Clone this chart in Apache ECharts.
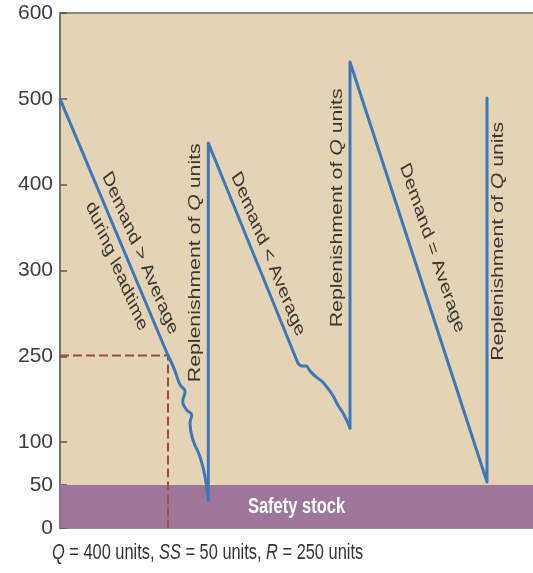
<!DOCTYPE html>
<html>
<head>
<meta charset="utf-8">
<script src="https://cdn.jsdelivr.net/npm/echarts@6/dist/echarts.min.js"></script>
<style>
  html, body { margin: 0; padding: 0; background: #ffffff; }
  #chart { width: 533px; height: 573px; }
</style>
</head>
<body>
<div id="chart"></div>
<script>
// ---- data (x = time units, y = inventory axis units) ----
const time = [0, 108, 114, 120, 125, 122.7, 126.7, 131.7, 130, 133, 140, 145, 148.3,
              148.3, 238, 242, 246, 250, 256, 262, 267, 273, 278, 284, 290,
              290, 427, 427];
const inventory = [500, 201, 186, 167, 159, 147, 137.5, 131.7, 122, 102.5, 83, 60, 32.6,
                   448.5, 192, 188.7, 188.7, 183, 176, 171, 164, 154, 143, 132, 116.5,
                   543, 53.6, 501];
// index ranges of the irregular (wavy) stretches of the inventory line
const wavyRanges = [[1, 12], [14, 24]];
const yTickValues = [0, 50, 100, 200, 300, 400, 500, 600];
const yTickLabels = ['0', '50', '100', '250', '300', '400', '500', '600'];
const safetyStock = [0, 50];
const reorderLevel = 201;     // axis position of the "250" (R) dashed line
const leadtimeStart = 108;
const reorderTime = [0, leadtimeStart, leadtimeStart];
const reorderValue = [reorderLevel, reorderLevel, 0];

// annotations: [text, time, value, angleDeg]
const notes = [
  ['Demand > Average', 80, 320, -60.5],
  ['during leadtime', 56.5, 305, -60.5],
  ['Replenishment of {i|Q} units', 136, 309, 90],
  ['Demand < Average', 208, 319, -61.5],
  ['Replenishment of {i|Q} units', 277.5, 373, 90],
  ['Demand = Average', 372, 326, -66],
  ['Replenishment of {i|Q} units', 438.5, 334, 90]
];
const caption = '{i|Q} = 400 units, {i|SS} = 50 units, {i|R} = 250 units';
const bandLabel = 'Safety stock';

// split the inventory line into straight pieces and wavy (smoothed) pieces
const pts = time.map((t, i) => [t, inventory[i]]);
const inWavy = (i) => wavyRanges.some(r => i > r[0] && i < r[1]);
const straightData = [];
for (let i = 0; i < pts.length - 1; i++) {
  const wavySeg = wavyRanges.some(r => i >= r[0] && i < r[1]);
  if (!wavySeg) {
    if (straightData.length && straightData[straightData.length - 1] !== null &&
        straightData[straightData.length - 1] !== pts[i]) straightData.push(null);
    if (straightData[straightData.length - 1] !== pts[i]) straightData.push(pts[i]);
    straightData.push(pts[i + 1]);
  }
}
const wavyData = [];
wavyRanges.forEach((r, k) => {
  if (k > 0) wavyData.push(null);
  for (let i = r[0]; i <= r[1]; i++) wavyData.push(pts[i]);
});

const chart = echarts.init(document.getElementById('chart'), null, {renderer: 'canvas'});
const STRETCH = 1.33;
const textColor = '#3a3632';
const lineColor = '#3c78b9';

const option = {
  animation: false,
  backgroundColor: '#ffffff',
  grid: {
    left: 60, top: 13, right: -2, bottom: 45,
    outerBoundsMode: 'none',
    show: true, backgroundColor: '#e4d4b5', borderColor: '#6e6c68', borderWidth: 1.5
  },
  xAxis: {
    type: 'value', min: 0, max: 475,
    axisLine: {show: false}, axisTick: {show: false}, axisLabel: {show: false}, splitLine: {show: false}
  },
  yAxis: {
    type: 'value', min: 0, max: 600,
    axisLine: {show: true, lineStyle: {color: '#6e6c68', width: 1.5}},
    axisTick: {show: true, inside: true, length: 7, customValues: yTickValues, lineStyle: {color: '#555', width: 1.5}},
    axisLabel: {
      customValues: yTickValues, margin: 7,
      formatter: function (v) { const i = yTickValues.indexOf(v); return i >= 0 ? yTickLabels[i] : ''; },
      color: '#3d3d3d', fontSize: 21, fontFamily: '"Liberation Sans Narrow", "Arial Narrow", "Liberation Sans", sans-serif'
    },
    splitLine: {show: false}
  },
  series: [
    {
      type: 'line', name: 'band', data: [], silent: true, z: 1,
      markArea: {
        silent: true,
        itemStyle: {color: '#9d7699', opacity: 1},
        data: [[{yAxis: safetyStock[0]}, {yAxis: safetyStock[1]}]]
      }
    },
    {
      type: 'line', name: 'reorder',
      data: reorderTime.map((t, i) => [t, reorderValue[i]]),
      showSymbol: false, symbol: 'none', z: 3,
      lineStyle: {color: '#a8463c', width: 2, type: [9, 4]}
    },
    {
      type: 'line', name: 'inventory',
      data: straightData, connectNulls: false,
      showSymbol: false, symbol: 'none', z: 4,
      lineStyle: {color: lineColor, width: 3, join: 'round', cap: 'round'}
    },
    {
      type: 'line', name: 'inventory-wavy',
      data: wavyData, connectNulls: false, smooth: 0.45,
      showSymbol: false, symbol: 'none', z: 4,
      lineStyle: {color: lineColor, width: 3, join: 'round', cap: 'round'}
    }
  ]
};
chart.setOption(option);

const graphics = [];
notes.forEach(function (n) {
  const p = chart.convertToPixel({gridIndex: 0}, [n[1], n[2]]);
  graphics.push({
    type: 'group', x: p[0], y: p[1], scaleY: STRETCH, z: 100,
    children: [{
      type: 'text', x: 0, y: 0, z: 100, rotation: n[3] * Math.PI / 180,
      style: {
        text: n[0], fill: textColor, fontSize: 16, fontFamily: '"Liberation Sans", Arial, sans-serif',
        align: 'center', verticalAlign: 'middle',
        rich: {i: {fontStyle: 'italic', fontSize: 16, fill: textColor, fontFamily: '"Liberation Sans", Arial, sans-serif'}}
      }
    }]
  });
});
const bp = chart.convertToPixel({gridIndex: 0}, [236.5, (safetyStock[0] + safetyStock[1]) / 2]);
graphics.push({
  type: 'group', x: bp[0], y: bp[1], scaleY: STRETCH, z: 100,
  children: [{
    type: 'text', x: 0, y: 0, z: 100,
    style: {text: bandLabel, fill: '#ffffff', fontSize: 16.5, fontWeight: 'bold',
            fontFamily: '"Liberation Sans", Arial, sans-serif', align: 'center', verticalAlign: 'middle'}
  }]
});
graphics.push({
  type: 'group', x: 52, y: 553, scaleY: STRETCH, z: 100,
  children: [{
    type: 'text', x: 0, y: 0, z: 100,
    style: {
      text: caption, fill: '#333333', fontSize: 16.4, fontFamily: '"Liberation Sans", Arial, sans-serif',
      align: 'left', verticalAlign: 'middle',
      rich: {i: {fontStyle: 'italic', fontSize: 16.4, fill: '#333333', fontFamily: '"Liberation Sans", Arial, sans-serif'}}
    }
  }]
});
chart.setOption({graphic: graphics});
</script>
</body>
</html>
